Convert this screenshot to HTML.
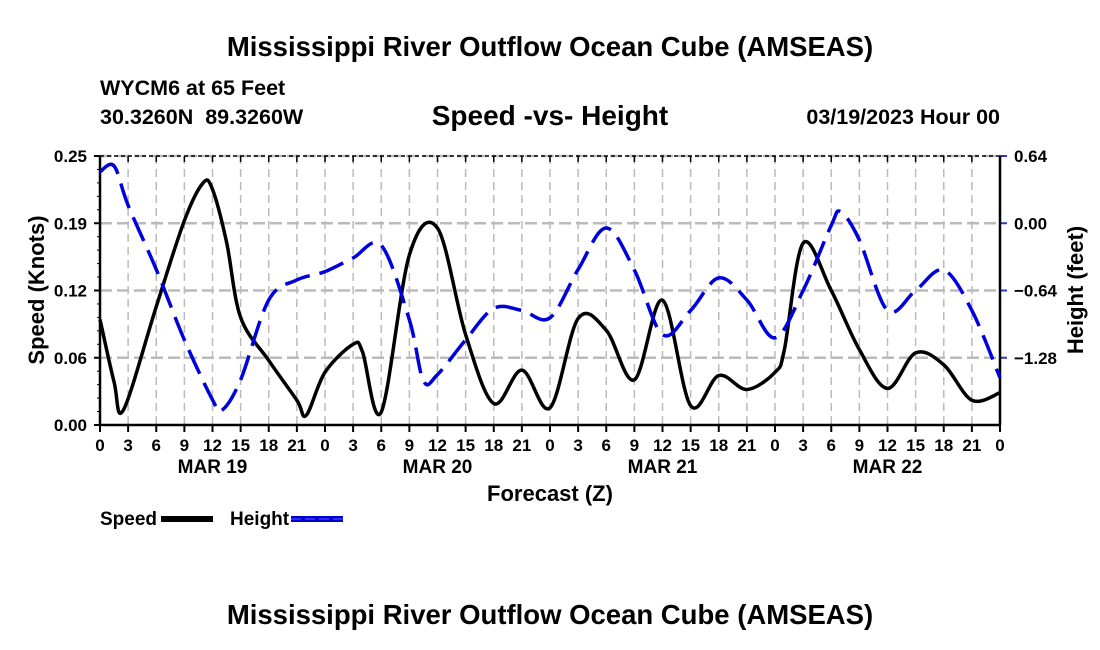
<!DOCTYPE html>
<html><head><meta charset="utf-8"><style>
html,body{margin:0;padding:0;background:#fff;}
svg{display:block;font-family:"Liberation Sans",Arial,sans-serif;font-weight:bold;}
text{white-space:pre;}
</style></head><body>
<svg id="chart" width="1100" height="650" viewBox="0 0 1100 650">
<text x="550" y="56" text-anchor="middle" font-size="27.5">Mississippi River Outflow Ocean Cube (AMSEAS)</text>
<text x="100" y="95" font-size="21.5">WYCM6 at 65 Feet</text>
<text x="100" y="124" font-size="21.5" xml:space="preserve">30.3260N  89.3260W</text>
<text x="550" y="125" text-anchor="middle" font-size="28">Speed -vs- Height</text>
<text x="1000" y="124" text-anchor="end" font-size="21.5">03/19/2023 Hour 00</text>
<g id="grid"></g>
<g id="axes"></g>
<g id="series"></g>
<text x="550" y="501" text-anchor="middle" font-size="22">Forecast (Z)</text>
<text transform="translate(44,290) rotate(-90)" text-anchor="middle" font-size="22">Speed (Knots)</text>
<text transform="translate(1083,290) rotate(-90)" text-anchor="middle" font-size="22">Height (feet)</text>
<g>
<text x="100" y="525" font-size="19">Speed</text>
<rect x="161" y="516" width="52" height="6" fill="#000"/>
</g>
<g>
<text x="230" y="525" font-size="19">Height</text>
<rect x="291" y="516" width="52" height="6" fill="#0000cc"/>
<line x1="291" y1="519" x2="343" y2="519" stroke="#3a3aff" stroke-width="1.5" stroke-dasharray="10,4"/>
</g>
<text x="550" y="624" text-anchor="middle" font-size="27.5">Mississippi River Outflow Ocean Cube (AMSEAS)</text>
</svg>
<script>
const speedHours=[0,1.5,2.5,6,9,11,12,13.5,15,18,21,22,24,27,28,30,33,36,39,42,45,48,51,54,57,60,63,66,69,72,73,75,78,81,84,87,90,93,96];
const speedValues=[0.098,0.04,0.014,0.11,0.19,0.225,0.219,0.17,0.10,0.06,0.023,0.009,0.049,0.075,0.068,0.012,0.158,0.183,0.084,0.02,0.051,0.016,0.099,0.088,0.042,0.116,0.018,0.046,0.033,0.049,0.07,0.169,0.125,0.07,0.034,0.067,0.056,0.023,0.03];
const heightHours=[0,1.5,3,6,9,12,13,15,18,21,24,27,30,33,34.5,36,39,42,45,48,51,54,57,60,63,66,69,72,75,78,79,81,84,87,90,93,96];
const heightValues=[0.49,0.545,0.17,-0.44,-1.11,-1.68,-1.78,-1.49,-0.73,-0.54,-0.46,-0.33,-0.21,-0.92,-1.5,-1.44,-1.11,-0.81,-0.83,-0.9,-0.44,-0.045,-0.445,-1.06,-0.83,-0.52,-0.73,-1.09,-0.64,-0.02,0.11,-0.16,-0.83,-0.64,-0.445,-0.83,-1.47];
const xTickLabels=["0","3","6","9","12","15","18","21"];
const dayLabels=["MAR 19","MAR 20","MAR 21","MAR 22"];
const speedTicks=[0,0.0625,0.125,0.1875,0.25];
const speedTickLabels=["0.00","0.06","0.12","0.19","0.25"];
const heightTicks=[0.64,0,-0.64,-1.28];
const heightTickLabels=["0.64","0.00","\u22120.64","\u22121.28"];

const X0=100,X1=1000,Y0=425,Y1=156,H=96;
const sx=h=>X0+(X1-X0)*h/H;
const sy=v=>Y0-(Y0-Y1)*v/0.25;
const hy=v=>Y0-(Y0-Y1)*(v+1.92)/2.56;
const NS="http://www.w3.org/2000/svg";
function mk(tag,attrs,parent){const e=document.createElementNS(NS,tag);for(const k in attrs)e.setAttribute(k,attrs[k]);parent.appendChild(e);return e;}
const grid=document.getElementById('grid'),axes=document.getElementById('axes'),series=document.getElementById('series');

for(let h=3;h<96;h+=3){
  const l=mk('line',{x1:sx(h),x2:sx(h),y1:Y1,y2:Y0,stroke:'#bbb','stroke-width':1.5,'stroke-dasharray':'8,5'},grid);
  
  
}
speedTicks.forEach((v,i)=>{
  if(v>0){const l=mk('line',{x1:X0,x2:X1,y1:sy(v),y2:sy(v),stroke:'#bbb','stroke-width':2.5,'stroke-dasharray':'12,5'},grid);
  
  }
  mk('line',{x1:X0-6,x2:X0,y1:sy(v),y2:sy(v),stroke:'#000','stroke-width':2},axes);
  const t=mk('text',{x:X0-13,y:sy(v)+6,'text-anchor':'end','font-size':17},axes);t.textContent=speedTickLabels[i];
  
  
});
for(let k=1;k<20;k++){const y=Y0-(Y0-Y1)*k/20;mk('line',{x1:X0-3,x2:X0,y1:y,y2:y,stroke:'#000','stroke-width':1},axes);}
heightTicks.forEach((v,i)=>{
  mk('line',{x1:X1,x2:X1+7,y1:hy(v),y2:hy(v),stroke:'#3333cc','stroke-width':2},axes);
  const t=mk('text',{x:X1+14,y:hy(v)+6,'font-size':17},axes);t.textContent=heightTickLabels[i];
  
  
});
mk('line',{x1:X0,x2:X1,y1:Y1,y2:Y1,stroke:'#000','stroke-width':1.5,'stroke-dasharray':'4,3'},axes);
for(let h=0;h<=96;h+=3){
  mk('line',{x1:sx(h),x2:sx(h),y1:Y0,y2:Y0+7,stroke:'#000','stroke-width':2},axes);
  mk('line',{x1:sx(h),x2:sx(h),y1:Y1,y2:Y1+6,stroke:'#000','stroke-width':1.5},axes);
  const t=mk('text',{x:sx(h),y:Y0+26,'text-anchor':'middle','font-size':17},axes);t.textContent=xTickLabels[(h/3)%8];
  
  
}
dayLabels.forEach((d,i)=>{const t=mk('text',{x:sx(12+24*i),y:Y0+48,'text-anchor':'middle','font-size':19},axes);t.textContent=d;
  
  });
mk('line',{x1:X0,x2:X0,y1:Y1,y2:Y0,stroke:'#000','stroke-width':2.5},axes);
mk('line',{x1:X1,x2:X1,y1:Y1,y2:Y0,stroke:'#000','stroke-width':2.5},axes);
mk('line',{x1:X0,x2:X1,y1:Y0,y2:Y0,stroke:'#000','stroke-width':2.5},axes);

function path(xs,ys){
  const p=xs.map((x,i)=>[x,ys[i]]);let d='M'+p[0][0]+','+p[0][1];
  for(let i=0;i<p.length-1;i++){
    const a=p[Math.max(0,i-1)],b=p[i],c=p[i+1],e=p[Math.min(p.length-1,i+2)];
    const c1=[b[0]+(c[0]-a[0])/6,b[1]+(c[1]-a[1])/6],c2=[c[0]-(e[0]-b[0])/6,c[1]-(e[1]-b[1])/6];
    d+=' C'+c1+' '+c2+' '+c;
  }return d;
}
const sp=mk('path',{d:path(speedHours.map(sx),speedValues.map(sy)),fill:'none',stroke:'#000','stroke-width':3.5},series);


const hp=mk('path',{d:path(heightHours.map(sx),heightValues.map(hy)),fill:'none',stroke:'#0000dd','stroke-width':3.5,'stroke-dasharray':'26,10'},series);


</script>
</body></html>
